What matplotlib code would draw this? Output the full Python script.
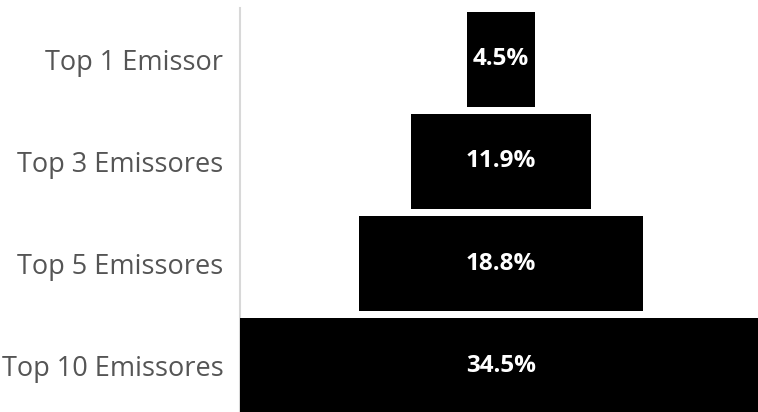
import matplotlib.pyplot as plt

categories = ['Top 1 Emissor', 'Top 3 Emissores', 'Top 5 Emissores', 'Top 10 Emissores']
values = [4.5, 11.9, 18.8, 34.5]
value_labels = ['4.5%', '11.9%', '18.8%', '34.5%']

W, H = 758, 412
fig = plt.figure(figsize=(W / 100, H / 100), dpi=100)
# axes runs a little past the right edge, like the original
ax = fig.add_axes([240 / W, -5 / H, 522 / W, 409 / H])

ypos = list(range(len(categories)))
lefts = [-v / 2 for v in values]
ax.barh(ypos, values, left=lefts, height=0.93, color='black')

for y, lab in zip(ypos, value_labels):
    ax.text(0, y, lab, ha='center', va='center', color='white',
            fontsize=17.5, fontweight='bold', family='Open Sans')

ax.set_xlim(-max(values) / 2, max(values) / 2)
ax.set_ylim(3.5, -0.5)
ax.set_yticks(ypos)
ax.set_yticklabels(categories, fontsize=19.5, color='#555555', family='Open Sans')
ax.tick_params(axis='y', length=0, pad=12)
ax.set_xticks([])

for s in ['top', 'right', 'bottom']:
    ax.spines[s].set_visible(False)
ax.spines['left'].set_color('#d8d8d8')
ax.spines['left'].set_linewidth(1.5)
ax.spines['left'].set_zorder(0)

fig.savefig('out.png', dpi=100)
